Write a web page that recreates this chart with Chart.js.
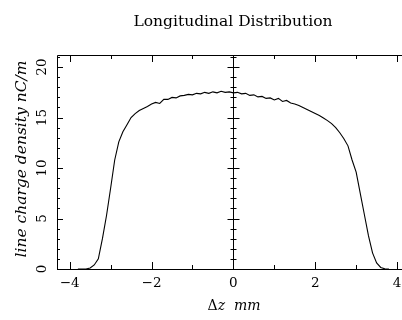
<!DOCTYPE html>
<html>
<head>
<meta charset="utf-8">
<script src="https://cdn.jsdelivr.net/npm/chart.js@4/dist/chart.umd.min.js"></script>
<style>
  html, body { margin: 0; padding: 0; background: #fff; }
  #wrap { width: 402px; height: 320px; }
</style>
</head>
<body>
<div id="wrap"><canvas id="distChart" width="402" height="320"></canvas></div>
<script>
// dz in mm
const dz = [
  -3.8, -3.7, -3.6, -3.5, -3.4, -3.3, -3.2, -3.1, -3.0, -2.9,
  -2.8, -2.7, -2.6, -2.5, -2.4, -2.3, -2.2, -2.1, -2.0, -1.9,
  -1.8, -1.7, -1.6, -1.5, -1.4, -1.3, -1.2, -1.1, -1.0, -0.9,
  -0.8, -0.7, -0.6, -0.5, -0.4, -0.3, -0.2, -0.1, 0.0, 0.1,
  0.2, 0.3, 0.4, 0.5, 0.6, 0.7, 0.8, 0.9, 1.0, 1.1,
  1.2, 1.3, 1.4, 1.5, 1.6, 1.7, 1.8, 1.9, 2.0, 2.1,
  2.2, 2.3, 2.4, 2.5, 2.6, 2.7, 2.8, 2.9, 3.0, 3.1,
  3.2, 3.3, 3.4, 3.5, 3.6, 3.7, 3.8
];
// line charge density nC/m
const density = [
  0, 0, 0, 0.1, 0.4, 1.0, 3.0, 5.3, 8.0, 10.8,
  12.6, 13.6, 14.3, 15.0, 15.4, 15.7, 15.9, 16.1, 16.35, 16.5,
  16.4, 16.8, 16.8, 17.0, 16.95, 17.15, 17.2, 17.3, 17.25, 17.4,
  17.35, 17.5, 17.4, 17.55, 17.45, 17.6, 17.5, 17.55, 17.45, 17.5,
  17.35, 17.4, 17.2, 17.25, 17.05, 17.1, 16.9, 16.95, 16.75, 16.9,
  16.6, 16.7, 16.45, 16.35, 16.2, 16.0, 15.8, 15.6, 15.4, 15.2,
  14.95, 14.7, 14.4, 14.0, 13.5, 12.9, 12.2, 10.8, 9.6, 7.5,
  5.4, 3.3, 1.6, 0.6, 0.15, 0.02, 0
];
const xTicks = [-4, -3, -2, -1, 0, 1, 2, 3, 4];
const yTicks = [0, 5, 10, 15, 20];

const serif = '"DejaVu Serif", "Liberation Serif", serif';

const framePlugin = {
  id: 'frame',
  afterDraw(chart) {
    const ctx = chart.ctx;
    const a = chart.chartArea;
    const xs = chart.scales.x;
    const ys = chart.scales.y;
    const x0 = Math.round(xs.getPixelForValue(0)) + 0.5;
    ctx.save();
    ctx.strokeStyle = '#000';
    ctx.lineWidth = 1;

    ctx.beginPath();
    // left, top and bottom axes (right edge runs off the picture)
    ctx.moveTo(a.right, a.top + 0.5);
    ctx.lineTo(a.left + 0.5, a.top + 0.5);
    ctx.lineTo(a.left + 0.5, a.bottom + 0.5);
    ctx.lineTo(a.right, a.bottom + 0.5);
    // center axis
    ctx.moveTo(x0, a.top);
    ctx.lineTo(x0, a.bottom);

    // x ticks (bottom up, top down)
    xTicks.forEach(v => {
      const px = Math.round(xs.getPixelForValue(v)) + 0.5;
      const len = v % 2 === 0 ? 7 : 4;
      ctx.moveTo(px, a.bottom); ctx.lineTo(px, a.bottom - len);
      ctx.moveTo(px, a.top); ctx.lineTo(px, a.top + len);
    });

    // y ticks, every 1, major every 5
    for (let v = 0; v <= 21; v++) {
      const py = Math.round(ys.getPixelForValue(v)) + 0.5;
      const len = v % 5 === 0 ? 6 : 3;
      ctx.moveTo(a.left, py); ctx.lineTo(a.left + len, py);
      ctx.moveTo(x0 - len, py); ctx.lineTo(x0 + len, py);
    }
    ctx.stroke();

    ctx.fillStyle = '#000';
    ctx.textAlign = 'center';
    ctx.textBaseline = 'middle';
    ctx.font = '13.5px ' + serif;
    [-4, -2, 0, 2, 4].forEach(v => {
      const label = v < 0 ? '\u2212' + Math.abs(v) : String(v);
      ctx.fillText(label, xs.getPixelForValue(v), a.bottom + 14);
    });

    yTicks.forEach(v => {
      ctx.save();
      ctx.translate(42, ys.getPixelForValue(v));
      ctx.rotate(-Math.PI / 2);
      ctx.fillText(String(v), 0, 0);
      ctx.restore();
    });

    // title
    ctx.font = '15.5px ' + serif;
    ctx.fillText('Longitudinal Distribution', 233, 22);

    // y title
    ctx.save();
    ctx.translate(22, 159);
    ctx.rotate(-Math.PI / 2);
    ctx.font = 'italic 15.5px ' + serif;
    ctx.fillText('line charge density nC/m', 0, 0);
    ctx.restore();

    // x title: upright Delta, italic z mm
    ctx.textAlign = 'left';
    const up = '14px ' + serif;
    const it = 'italic 14px ' + serif;
    ctx.font = up;
    const wD = ctx.measureText('\u0394').width;
    ctx.font = it;
    const wRest = ctx.measureText('z  mm').width;
    const tx = 234 - (wD + wRest) / 2;
    ctx.font = up;
    ctx.fillText('\u0394', tx, 306);
    ctx.font = it;
    ctx.fillText('z  mm', tx + wD, 306);

    ctx.restore();
  }
};

new Chart(document.getElementById('distChart').getContext('2d'), {
  type: 'line',
  data: {
    datasets: [{
      label: 'density',
      data: dz.map((x, i) => ({ x: x, y: density[i] })),
      borderColor: '#000',
      borderWidth: 1.1,
      pointRadius: 0,
      tension: 0,
      fill: false
    }]
  },
  options: {
    responsive: false,
    animation: false,
    layout: { padding: { left: 57, right: 0, top: 55, bottom: 51 } },
    plugins: {
      legend: { display: false },
      tooltip: { enabled: false }
    },
    scales: {
      x: { type: 'linear', min: -4.31, max: 4.12, display: false },
      y: { type: 'linear', min: 0, max: 21.2, display: false }
    }
  },
  plugins: [framePlugin]
});
</script>
</body>
</html>
